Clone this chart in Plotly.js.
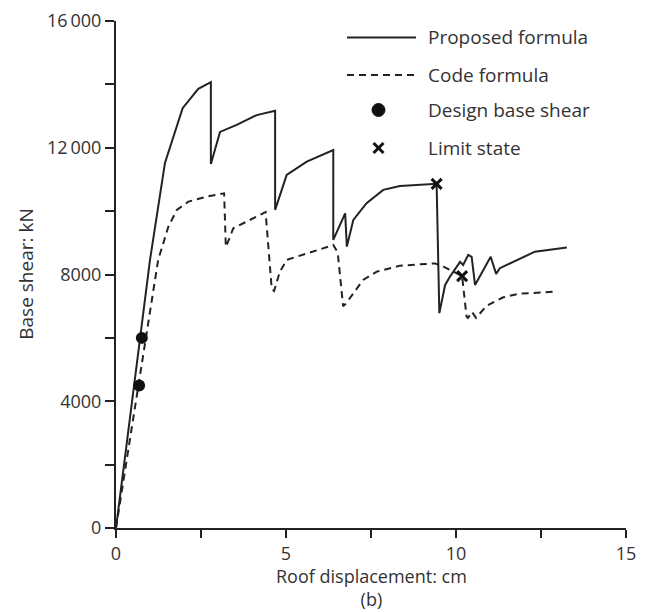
<!DOCTYPE html>
<html>
<head>
<meta charset="utf-8">
<script src="https://cdn.plot.ly/plotly-3.0.1.min.js"></script>
<style>html,body{margin:0;padding:0;background:#fff;}#chart{width:651px;height:612px;}</style>
</head>
<body>
<div id="chart"></div>
<script>
// Proposed formula (solid)
const proposedX = [0, 1.0, 1.44, 1.96, 2.42, 2.79, 2.79, 3.06, 3.55, 4.14, 4.68, 4.68, 5.02, 5.61, 6.39, 6.39, 6.74, 6.79, 6.98, 7.37, 7.86, 8.35, 9.43, 9.51, 9.68, 9.82, 10.12, 10.21, 10.36, 10.46, 10.56, 11.02, 11.18, 11.29, 12.32, 13.26];
const proposedY = [0, 8460, 11520, 13250, 13860, 14070, 11490, 12500, 12720, 13030, 13170, 10040, 11140, 11560, 11930, 9090, 9930, 8880, 9720, 10250, 10670, 10790, 10860, 6780, 7670, 7930, 8400, 8300, 8620, 8560, 7670, 8560, 8020, 8200, 8720, 8850];
// Code formula (dashed)
const codeX = [0, 1.10, 1.24, 1.54, 1.79, 2.13, 2.67, 3.18, 3.23, 3.32, 3.45, 4.40, 4.58, 4.65, 4.82, 5.02, 5.61, 6.39, 6.52, 6.68, 6.76, 6.98, 7.27, 7.67, 8.35, 9.38, 9.63, 10.18, 10.31, 10.35, 10.47, 10.59, 10.90, 11.39, 11.83, 12.91];
const codeY = [0, 7620, 8460, 9510, 10040, 10300, 10460, 10560, 8870, 9100, 9460, 9970, 7550, 7480, 8090, 8460, 8670, 8930, 8700, 7000, 7080, 7410, 7830, 8090, 8280, 8350, 8250, 7950, 6670, 6630, 6820, 6630, 7010, 7280, 7390, 7460];
// Design base shear
const designX = [0.68, 0.76];
const designY = [4500, 6000];
// Limit state
const limitX = [9.43, 10.18];
const limitY = [10860, 7950];
// Ticks
const xTickVals = [0, 2.5, 5, 7.5, 10, 12.5, 15];
const xTickText = ['0', '', '5', '', '10', '', '15'];
const yTickVals = [0, 2000, 4000, 6000, 8000, 10000, 12000, 14000, 16000];
const yTickText = ['0', '', '4000', '', '8000', '', '12\u2009000', '', '16\u2009000'];
const legendLabels = ['Proposed formula', 'Code formula', 'Design base shear', 'Limit state'];

const ink = '#222';
const txt = '#333';
const font = {family: 'Open Sans, sans-serif', size: 19, color: txt};
const font18 = {family: 'Open Sans, sans-serif', size: 18, color: txt};

const traces = [
  {x: proposedX, y: proposedY, mode: 'lines', line: {color: ink, width: 2}, showlegend: false},
  {x: codeX, y: codeY, mode: 'lines', line: {color: ink, width: 2, dash: '7px,5px'}, showlegend: false},
  {x: designX, y: designY, mode: 'markers', marker: {symbol: 'circle', size: 12, color: '#111'}, showlegend: false},
  {x: limitX, y: limitY, mode: 'markers', marker: {symbol: 'x-thin', size: 10, line: {color: '#111', width: 3}}, showlegend: false}
];

// legend geometry (paper coords)
const rows = [0.9675, 0.8935, 0.8245, 0.7495];
const lx0 = 0.4529, lx1 = 0.5882, ltext = 0.6078, lmid = 0.5147;

const shapes = [
  {type: 'line', xref: 'paper', yref: 'paper', x0: lx0, x1: lx1, y0: rows[0], y1: rows[0], line: {color: ink, width: 2}},
  {type: 'line', xref: 'paper', yref: 'paper', x0: lx0, x1: lx1, y0: rows[1], y1: rows[1], line: {color: ink, width: 2, dash: '7px,5px'}},
  {type: 'circle', xref: 'paper', yref: 'paper', xsizemode: 'pixel', ysizemode: 'pixel', xanchor: lmid, yanchor: rows[2], x0: -6.5, x1: 6.5, y0: -6.5, y1: 6.5, fillcolor: '#111', line: {color: '#111', width: 1}},
  {type: 'line', xref: 'paper', yref: 'paper', xsizemode: 'pixel', ysizemode: 'pixel', xanchor: lmid, yanchor: rows[3], x0: -5, x1: 5, y0: -5, y1: 5, line: {color: '#111', width: 3}},
  {type: 'line', xref: 'paper', yref: 'paper', xsizemode: 'pixel', ysizemode: 'pixel', xanchor: lmid, yanchor: rows[3], x0: -5, x1: 5, y0: 5, y1: -5, line: {color: '#111', width: 3}}
];

const annotations = legendLabels.map((t, i) => ({
  text: t, xref: 'paper', yref: 'paper', x: ltext, y: rows[i], xanchor: 'left', yanchor: 'middle', showarrow: false, font: font
}));
annotations.push({text: 'Roof displacement: cm<br>(b)', xref: 'paper', yref: 'paper', x: 0.5, y: -0.1183, xanchor: 'center', yanchor: 'middle', align: 'center', showarrow: false, font: font18});
annotations.push({text: 'Base shear: kN', xref: 'paper', yref: 'paper', x: -0.178, y: 0.5, xanchor: 'center', yanchor: 'middle', textangle: -90, showarrow: false, font: font});

const layout = {
  width: 651, height: 612,
  margin: {l: 116, r: 25, t: 21, b: 84},
  paper_bgcolor: '#fff', plot_bgcolor: '#fff',
  font: font,
  showlegend: false,
  xaxis: {range: [0, 15], showgrid: false, zeroline: false, showline: true, linecolor: ink, linewidth: 2,
          ticks: 'outside', ticklen: 8, tickwidth: 2, tickcolor: ink, tickvals: xTickVals, ticktext: xTickText,
          tickfont: font18, fixedrange: true},
  yaxis: {range: [0, 16000], showgrid: false, zeroline: false, showline: true, linecolor: ink, linewidth: 2,
          ticks: 'outside', ticklen: 9, tickwidth: 2, tickcolor: ink, tickvals: yTickVals, ticktext: yTickText,
          tickfont: font18, fixedrange: true},
  shapes: shapes,
  annotations: annotations
};

Plotly.newPlot('chart', traces, layout, {displayModeBar: false, staticPlot: true});
</script>
</body>
</html>
